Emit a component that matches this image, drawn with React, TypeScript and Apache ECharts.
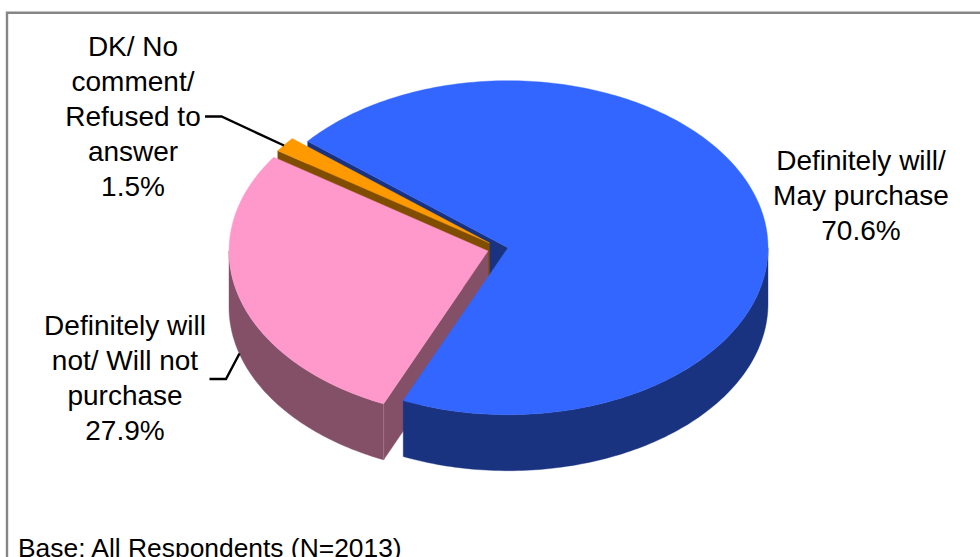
import React, { useEffect, useRef } from "react";
import * as echarts from "echarts";

// ---- data ----
const categories = [
  "Definitely will/\nMay purchase",
  "Definitely will\nnot/ Will not\npurchase",
  "DK/ No\ncomment/\nRefused to\nanswer",
];
const values = [70.6, 27.9, 1.5];
const baseNote = "Base: All Respondents (N=2013)";

// ---- styling ----
const topColors = ["#3366FF", "#FF99CC", "#FF9900"];
const sideColors = ["#1A3380", "#845068", "#804D00"];
const FONT = '"Liberation Sans", Arial, sans-serif';
const FONT_SIZE = 28;
const NOTE_SIZE = 26.4;
const LINE_H = 35;
const DEPTH = 56;
const FIRST_ANGLE = 309.6;
// per slice geometry [cx, cy, rx, ry]
const sliceGeom = [
  [508, 247.7, 260, 167],
  [488, 251, 259, 167],
  [489.5, 243, 256, 164],
];
const labelPos = [
  [861, 143],
  [125, 308],
  [133, 29],
];
// Drawing order: [slice, part]; 0 top, 1 outer wall, 2 radial wall at the slice's start
const layers = [
  [0, 2],
  [2, 2],
  [2, 0],
  [1, 1],
  [1, 2],
  [1, 0],
  [0, 1],
  [0, 0],
];

function sliceAngles(i: number) {
  const total = values.reduce((a, b) => a + b, 0);
  let a = FIRST_ANGLE;
  for (let k = 0; k < i; k++) a += (values[k] / total) * 360;
  return [a, a + (values[i] / total) * 360];
}

function pt(g: number[], deg: number, dy = 0) {
  const r = (deg * Math.PI) / 180;
  return [g[0] + g[2] * Math.sin(r), g[1] - g[3] * Math.cos(r) + dy];
}

function arcPts(g: number[], a0: number, a1: number, dy = 0) {
  const n = Math.max(2, Math.ceil(Math.abs(a1 - a0)));
  const out: number[][] = [];
  for (let i = 0; i <= n; i++) out.push(pt(g, a0 + ((a1 - a0) * i) / n, dy));
  return out;
}

function renderLayer(params: any, api: any) {
  const slice = api.value(1) as number;
  const part = api.value(2) as number;
  const g = sliceGeom[slice];
  const [a0, a1] = sliceAngles(slice);
  let points: number[][] = [];
  let fill = sideColors[slice];
  const children: any[] = [];
  if (part === 0) {
    points = [[g[0], g[1]], ...arcPts(g, a0, a1)];
    fill = topColors[slice];
  } else if (part === 1) {
    // only the wall facing the viewer: angles between 90 and 270, modulo 360
    for (const k of [0, 360]) {
      const s = Math.max(a0, k + 90);
      const e = Math.min(a1, k + 270);
      if (e > s) points = [...arcPts(g, s, e), ...arcPts(g, e, s, DEPTH)];
    }
  } else {
    const p = pt(g, a0);
    points = [
      [g[0], g[1]],
      p,
      [p[0], p[1] + DEPTH],
      [g[0], g[1] + DEPTH],
    ];
    if (slice === 1) {
      children.push({
        type: "line",
        shape: { x1: p[0], y1: p[1], x2: p[0], y2: p[1] + DEPTH },
        style: { stroke: "#A56F8A", lineWidth: 1 },
        silent: true,
      });
    }
  }
  return {
    type: "group",
    children: [
      {
        type: "polygon",
        shape: { points },
        style: { fill, stroke: fill, lineWidth: 0.4 },
      },
      ...children,
    ],
  };
}

export default function App() {
  const ref = useRef<HTMLDivElement>(null);
  useEffect(() => {
    const chart = echarts.init(ref.current!, null, { renderer: "svg" });
    const textStyle = (text: string, align: string, size: number) => ({
      text,
      font: `${size}px ${FONT}`,
      fill: "#000000",
      align,
      verticalAlign: "top",
      lineHeight: LINE_H,
    });
    chart.setOption({
      animation: false,
      backgroundColor: "#ffffff",
      xAxis: { show: false },
      yAxis: { show: false },
      graphic: [
        {
          type: "rect",
          shape: { x: 7, y: 12.7, width: 1000, height: 600 },
          style: { fill: "none", stroke: "#868686", lineWidth: 2.4 },
          silent: true,
        },
        {
          type: "polyline",
          z: 10,
          shape: { points: [[205, 116.5], [221.5, 116.5], [284, 145.5]] },
          style: { fill: "none", stroke: "#000", lineWidth: 2.4 },
        },
        {
          type: "polyline",
          z: 10,
          shape: { points: [[209.5, 379], [226, 379], [239.5, 353.5]] },
          style: { fill: "none", stroke: "#000", lineWidth: 2.4 },
        },
        ...categories.map((c, i) => ({
          type: "text",
          z: 10,
          x: labelPos[i][0],
          y: labelPos[i][1],
          style: textStyle(`${c}\n${values[i].toFixed(1)}%`, "center", FONT_SIZE),
        })),
        {
          type: "text",
          z: 10,
          x: 18,
          y: 530,
          style: textStyle(baseNote, "left", NOTE_SIZE),
        },
      ],
      series: [
        {
          type: "custom",
          coordinateSystem: "none",
          silent: true,
          clip: false,
          renderItem: renderLayer,
          data: layers.map(([s, p]) => [values[s], s, p]),
        },
      ],
    });
    return () => chart.dispose();
  }, []);
  return (
    <div
      ref={ref}
      style={{ position: "absolute", left: 0, top: 0, width: 980, height: 557, overflow: "hidden" }}
    />
  );
}
